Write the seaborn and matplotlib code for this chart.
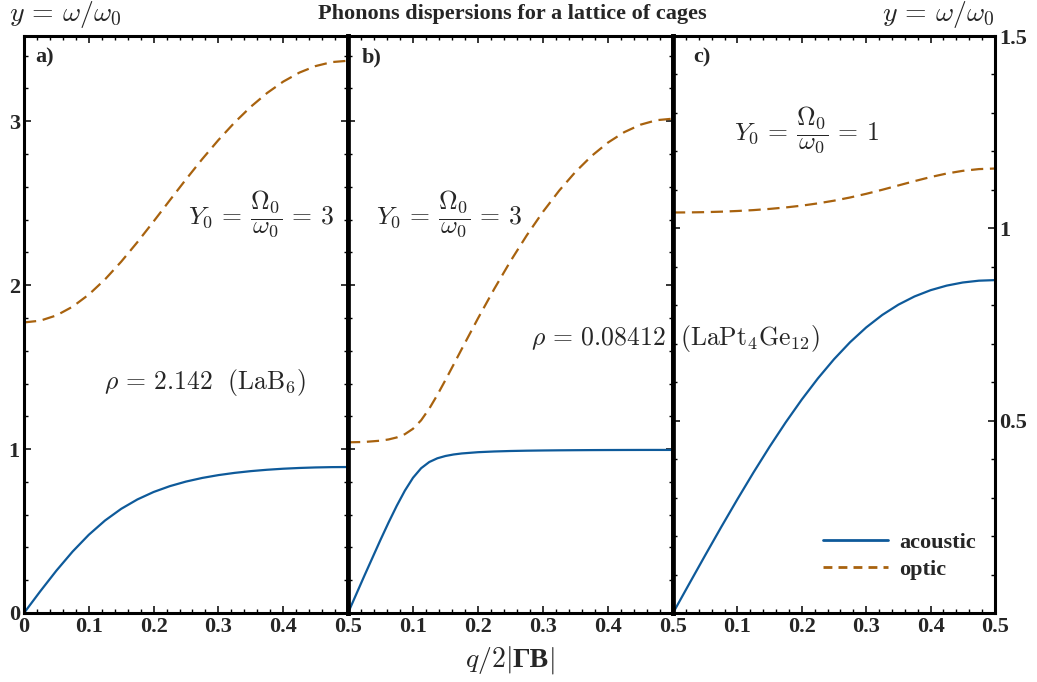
import numpy as np
import matplotlib
matplotlib.use("Agg")
import matplotlib.pyplot as plt
from matplotlib.ticker import MultipleLocator, FixedLocator, FixedFormatter
from matplotlib.font_manager import FontProperties
from matplotlib.offsetbox import TextArea, HPacker, AnchoredOffsetbox
from matplotlib.lines import Line2D
import seaborn as sns

# ---- data: reduced frequency y = omega/omega_0 along q/2|GB| ----
q_ac = [0.0, 0.025, 0.05, 0.075, 0.1, 0.125, 0.15, 0.175, 0.2, 0.225, 0.25,
        0.275, 0.3, 0.325, 0.35, 0.375, 0.4, 0.425, 0.45, 0.475, 0.5]

# panel a) LaB6, rho = 2.142, Y0 = 3
acoustic_a = [0.0, 0.1320, 0.2585, 0.3748, 0.4772, 0.5641, 0.6355, 0.6928, 0.7382,
              0.7738, 0.8018, 0.8239, 0.8412, 0.8548, 0.8655, 0.8738, 0.8802,
              0.8848, 0.8880, 0.8899, 0.8905]
optic_a = [1.7726, 1.7833, 1.8153, 1.8687, 1.9426, 2.0351, 2.1432, 2.2625, 2.3887,
           2.5178, 2.6456, 2.7690, 2.8853, 2.9924, 3.0884, 3.1718, 3.2416,
           3.2968, 3.3366, 3.3608, 3.3690]

# panel b) LaPt4Ge12, rho = 0.08412, Y0 = 3 (denser sampling around the knee)
q_b = [0.0, 0.025, 0.05, 0.0625, 0.075, 0.0875, 0.1, 0.1125, 0.125, 0.1375, 0.15,
       0.1625, 0.175, 0.2, 0.225, 0.25, 0.275, 0.3, 0.325, 0.35, 0.375, 0.4,
       0.425, 0.45, 0.475, 0.5]
acoustic_b = [0.0, 0.2256, 0.4464, 0.5528, 0.6539, 0.7465, 0.8249, 0.8832, 0.9210,
              0.9439, 0.9579, 0.9671, 0.9733, 0.9810, 0.9854, 0.9883, 0.9902,
              0.9915, 0.9925, 0.9932, 0.9938, 0.9942, 0.9945, 0.9947, 0.9948, 0.9948]
optic_b = [1.0412, 1.0434, 1.0512, 1.0588, 1.0710, 1.0909, 1.1239, 1.1757, 1.2466,
           1.3307, 1.4218, 1.5158, 1.6106, 1.7976, 1.9771, 2.1465, 2.3038,
           2.4478, 2.5772, 2.6912, 2.7890, 2.8699, 2.9334, 2.9790, 3.0065, 3.0157]

# panel c) rho = 0.08412, Y0 = 1
acoustic_c = [0.0, 0.0753, 0.1501, 0.2238, 0.2957, 0.3654, 0.4322, 0.4956, 0.5550,
              0.6099, 0.6597, 0.7040, 0.7424, 0.7749, 0.8016, 0.8229, 0.8392,
              0.8511, 0.8592, 0.8639, 0.8654]
optic_c = [1.0412, 1.0414, 1.0421, 1.0433, 1.0451, 1.0474, 1.0505, 1.0543, 1.0590,
           1.0649, 1.0719, 1.0802, 1.0897, 1.1003, 1.1115, 1.1227, 1.1333,
           1.1425, 1.1495, 1.1540, 1.1555]

x_ticks = [0.0, 0.1, 0.2, 0.3, 0.4, 0.5]
x_labels_first = ["0", "0.1", "0.2", "0.3", "0.4", "0.5"]
x_labels_other = ["", "0.1", "0.2", "0.3", "0.4", "0.5"]
y_ticks_left = [0, 1, 2, 3]
y_labels_left = ["0", "1", "2", "3"]
y_ticks_right = [0.5, 1.0, 1.5]
y_labels_right = ["0.5", "1", "1.5"]

# ---- style ----
sns.set_theme(style="ticks")
plt.rcParams["font.family"] = ["Liberation Serif", "DejaVu Serif"]
plt.rcParams["mathtext.fontset"] = "cm"
plt.rcParams["axes.facecolor"] = "white"
plt.rcParams["figure.facecolor"] = "white"

BLUE = "#0e5a9a"
BROWN = "#a8620e"
LW = 1.6
DASH = (0, (5.5, 3.0))
BOLD = dict(family="Liberation Serif", weight="bold", size=16)
MATH = 18.5

W, H = 1037, 682
fig = plt.figure(figsize=(W / 100, H / 100), dpi=100)

def frac_box(x0, x1, y0, y1):
    return [x0 / W, 1 - y1 / H, (x1 - x0) / W, (y1 - y0) / H]

ax_a = fig.add_axes(frac_box(24, 348, 36, 613))
ax_b = fig.add_axes(frac_box(348, 673, 36, 613))
ax_c = fig.add_axes(frac_box(673, 995, 36, 613))

sns.lineplot(x=q_ac, y=acoustic_a, ax=ax_a, color=BLUE, lw=LW)
sns.lineplot(x=q_ac, y=optic_a, ax=ax_a, color=BROWN, lw=LW, linestyle=DASH)
sns.lineplot(x=q_b, y=acoustic_b, ax=ax_b, color=BLUE, lw=LW)
sns.lineplot(x=q_b, y=optic_b, ax=ax_b, color=BROWN, lw=LW, linestyle=DASH)
sns.lineplot(x=q_ac, y=acoustic_c, ax=ax_c, color=BLUE, lw=LW)
sns.lineplot(x=q_ac, y=optic_c, ax=ax_c, color=BROWN, lw=LW, linestyle=DASH)

for i, ax in enumerate((ax_a, ax_b, ax_c)):
    ax.set_xlim(0, 0.5)
    ax.set_xlabel("")
    ax.set_ylabel("")
    ax.xaxis.set_major_locator(FixedLocator(x_ticks))
    ax.xaxis.set_major_formatter(FixedFormatter(x_labels_first if i == 0 else x_labels_other))
    ax.xaxis.set_minor_locator(MultipleLocator(0.02))
    ax.tick_params(which="both", direction="in", top=True, bottom=True,
                   left=True, right=True, color="black")
    ax.tick_params(which="major", length=5, width=1.1, pad=3)
    ax.tick_params(which="minor", length=3, width=1.0)
    for lab in ax.get_xticklabels():
        lab.set_fontproperties(FontProperties(**BOLD))
    for sp in ax.spines.values():
        sp.set_color("black")
        sp.set_linewidth(2.2)
    ax.grid(False)

for ax in (ax_a, ax_b):
    ax.set_ylim(0, 3.52)
    ax.yaxis.set_major_locator(FixedLocator(y_ticks_left))
    ax.yaxis.set_major_formatter(FixedFormatter(y_labels_left))
    ax.yaxis.set_minor_locator(MultipleLocator(0.2))

ax_c.set_ylim(0, 1.5)
ax_c.yaxis.set_major_locator(FixedLocator(y_ticks_right))
ax_c.yaxis.set_major_formatter(FixedFormatter(y_labels_right))
ax_c.yaxis.set_minor_locator(MultipleLocator(0.1))

ax_a.tick_params(axis="y", labelleft=True, labelright=False, pad=3)
ax_b.tick_params(axis="y", labelleft=False, labelright=False)
ax_c.tick_params(axis="y", labelleft=False, labelright=True, pad=3)
for ax in (ax_a, ax_c):
    for lab in ax.get_yticklabels():
        lab.set_fontproperties(FontProperties(**BOLD))

# heavier frame lines where the panels meet
ax_a.spines["right"].set_linewidth(3.4)
ax_b.spines["left"].set_linewidth(3.4)
ax_b.spines["right"].set_linewidth(3.4)
ax_c.spines["left"].set_linewidth(3.4)

# panel tags
ax_a.text(0.035, 0.963, "a)", transform=ax_a.transAxes, va="center", ha="left", **BOLD)
ax_b.text(0.042, 0.963, "b)", transform=ax_b.transAxes, va="center", ha="left", **BOLD)
ax_c.text(0.062, 0.963, "c)", transform=ax_c.transAxes, va="center", ha="left", **BOLD)

# annotations
Y0_3 = r"$Y_0\,=\,\dfrac{\Omega_0}{\omega_0}\,=\,3$"
Y0_1 = r"$Y_0\,=\,\dfrac{\Omega_0}{\omega_0}\,=\,1$"
ax_a.text(0.73, 0.693, Y0_3, transform=ax_a.transAxes,
          ha="center", va="center", fontsize=MATH)
ax_b.text(0.312, 0.693, Y0_3, transform=ax_b.transAxes,
          ha="center", va="center", fontsize=MATH)
ax_c.text(0.413, 0.837, Y0_1, transform=ax_c.transAxes,
          ha="center", va="center", fontsize=MATH)
ax_a.text(0.559, 0.40, r"$\rho\,=\,2.142\ \ (\mathrm{LaB}_6)$", transform=ax_a.transAxes,
          ha="center", va="center", fontsize=18.5)
fig.text(675 / W, 1 - 338 / H, r"$\rho\,=\,0.08412\ \ (\mathrm{LaPt}_4\mathrm{Ge}_{12})$",
         ha="center", va="center", fontsize=18.5)

# axis captions and title
fig.text(9 / W, 1 - 14 / H, r"$y\,=\,\omega/\omega_0$", ha="left", va="center", fontsize=20)
fig.text(994 / W, 1 - 14 / H, r"$y\,=\,\omega/\omega_0$", ha="right", va="center", fontsize=20)
fig.text(512 / W, 1 - 14 / H, "Phonons dispersions for a lattice of cages",
         ha="center", va="center", **BOLD)

# x caption q/2|ΓB| with a bold Gamma-B
xcap = HPacker(children=[
    TextArea(r"$q/2|$", textprops=dict(fontsize=20)),
    TextArea("ΓB", textprops=dict(family="Liberation Serif", weight="bold", fontsize=20)),
    TextArea(r"$|$", textprops=dict(fontsize=20)),
], align="baseline", pad=0, sep=0)
fig.add_artist(AnchoredOffsetbox(loc="center", child=xcap, frameon=False, pad=0,
                                 bbox_to_anchor=(510 / W, 1 - 660 / H),
                                 bbox_transform=fig.transFigure, borderpad=0))

# legend
handles = [Line2D([], [], color=BLUE, lw=LW + 0.4),
           Line2D([], [], color=BROWN, lw=LW + 0.4, linestyle=(0, (3.2, 2.2)))]
leg = ax_c.legend(handles, ["acoustic", "optic"], loc="upper left",
                  bbox_to_anchor=(0.405, 0.175), frameon=False, handlelength=2.9,
                  handletextpad=0.5, labelspacing=0.3, prop=FontProperties(**BOLD))

fig.savefig("out.png", dpi=100)
